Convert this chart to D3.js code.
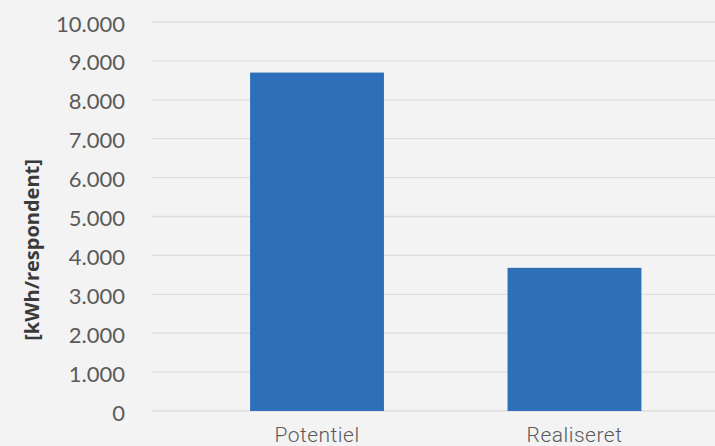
<!DOCTYPE html>
<html>
<head>
<meta charset="utf-8">
<script src="https://cdn.jsdelivr.net/npm/d3@7"></script>
<style>
    html, body { margin: 0; padding: 0; background: #f3f3f3; }
    svg { display: block; }
</style>
</head>
<body>
<div id="graph"></div>
<script>
// Data
let categories = ["Potentiel", "Realiseret"];
let values = [8700, 3680];
let yTicks = [0, 1000, 2000, 3000, 4000, 5000, 6000, 7000, 8000, 9000, 10000];

let width = 715;
let height = 446;

// Danish number format (dot as thousands separator)
let locale = d3.formatLocale({ decimal: ",", thousands: ".", grouping: [3], currency: ["", " kr."] });
let fmt = locale.format(",d");

// Scales
let yScale = d3.scaleLinear()
    .domain([0, 10000])
    .range([411, 22]);

let xScale = d3.scaleBand()
    .domain(categories)
    .range([126.5, 765])
    .padding(0.48);

// Canvas
let svg = d3.select("#graph")
    .append("svg")
    .attr("width", width)
    .attr("height", height);

svg.append("rect")
    .attr("width", width)
    .attr("height", height)
    .attr("fill", "#f3f3f3");

// Gridlines
svg.append("g")
    .selectAll("line")
    .data(yTicks)
    .join("line")
    .attr("x1", 152)
    .attr("x2", width)
    .attr("y1", d => yScale(d))
    .attr("y2", d => yScale(d))
    .attr("stroke", "#dedede")
    .attr("stroke-width", 1.3);

// Y axis
let yAxis = svg.append("g")
    .attr("transform", "translate(125,2)")
    .call(d3.axisLeft(yScale).tickValues(yTicks).tickFormat(fmt).tickSize(0).tickPadding(0));
yAxis.select(".domain").remove();
yAxis.selectAll("text")
    .attr("fill", "#5a5a5a")
    .style("font-family", "Lato, 'Open Sans', sans-serif")
    .style("font-size", "22px");

// Bars
svg.append("g")
    .selectAll("rect")
    .data(values)
    .join("rect")
    .attr("x", (d, i) => xScale(categories[i]))
    .attr("y", d => yScale(d))
    .attr("width", xScale.bandwidth())
    .attr("height", d => yScale(0) - yScale(d))
    .attr("fill", "#2d70b9");

// X axis labels
let xAxis = svg.append("g")
    .attr("transform", "translate(0,442)")
    .call(d3.axisBottom(xScale).tickSize(0).tickPadding(0));
xAxis.select(".domain").remove();
xAxis.selectAll("text")
    .attr("fill", "#5a5a5a")
    .attr("dy", 0)
    .style("font-family", "Roboto, 'Open Sans', sans-serif")
    .style("font-weight", 300)
    .style("letter-spacing", "0.5px")
    .style("font-size", "21px");

// Y axis title
svg.append("text")
    .attr("transform", "translate(39,250) rotate(-90)")
    .attr("text-anchor", "middle")
    .attr("fill", "#3a3a3a")
    .style("font-family", "'Open Sans', Lato, sans-serif")
    .style("font-weight", 700)
    .style("font-size", "20px")
    .text("[kWh/respondent]");
</script>
</body>
</html>
